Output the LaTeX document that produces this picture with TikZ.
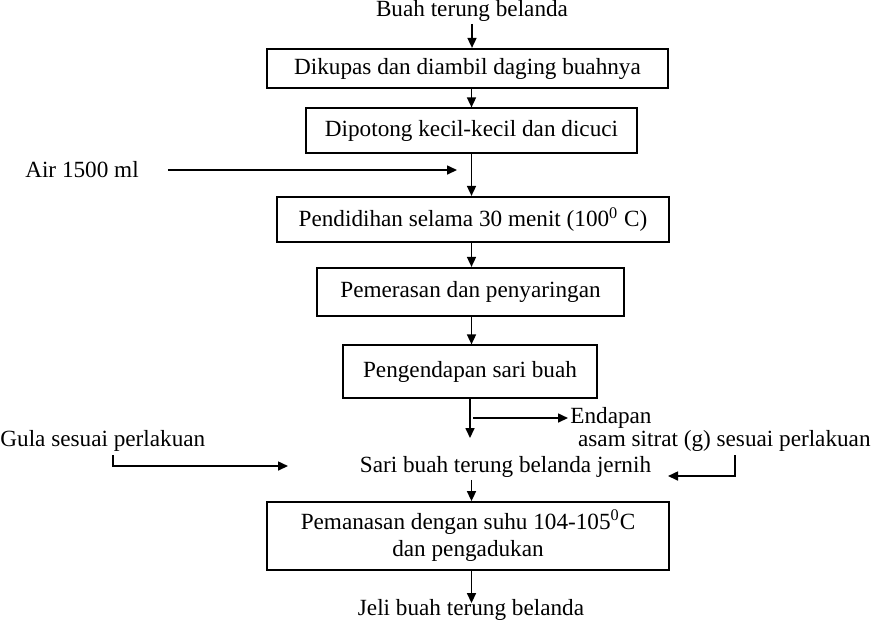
\documentclass[tikz,border=0pt]{standalone}
\usepackage{fontspec}
\setmainfont{Liberation Serif}
\usetikzlibrary{arrows.meta}
\tikzset{
  kotak/.style={draw, line width=0.6pt, inner sep=2pt, align=center},
  panah/.style={-{Triangle[length=5pt,width=4.5pt]}, line width=0.8pt}
}
\begin{document}
\begin{tikzpicture}[x=0.5pt,y=-0.5pt,font=\fontsize{11.6}{13.6}\selectfont]
        \useasboundingbox (0,0) rectangle (871,623);
        \node[inner sep=1pt] (buah) at (472,11) {Buah terung belanda};
        \node[kotak,line width=1.1pt,minimum width=200.5pt,minimum height=19.5pt] (kupas) at (467.5,68.5) {Dikupas dan diambil daging buahnya};
        \node[kotak,minimum width=165.5pt,minimum height=22.5pt] (potong) at (471.5,130.5) {Dipotong kecil-kecil dan dicuci};
        \node (air) at (82,170) {Air 1500 ml};
        \coordinate (airujung) at (457,170);
        \node[kotak,line width=1.1pt,minimum width=196pt,minimum height=22.5pt] (didih) at (473,219.5) {Pendidihan selama 30 menit (100\textsuperscript{0} C)};
        \node[kotak,line width=1.1pt,minimum width=153.5pt,minimum height=24pt] (peras) at (470.5,292) {Pemerasan dan penyaringan};
        \node[kotak,minimum width=127pt,minimum height=26.5pt] (endap) at (470,371.5) {Pengendapan sari buah};
        \coordinate (endapujung) at (470,438);
        \coordinate (cabang) at (473,418);
        \node[anchor=west,inner sep=1pt] (endapan) at (568,418) {Endapan};
        \node[anchor=east,inner sep=0pt] (asam) at (871,441) {asam sitrat (g) sesuai perlakuan};
        \node[anchor=west,inner sep=0pt] (gula) at (0,441) {Gula sesuai perlakuan};
        \node[inner sep=1pt] (sari) at (505.5,467) {Sari buah terung belanda jernih};
        \coordinate (gulapangkal) at (113,455);
        \coordinate (gulaujung) at (288,466);
        \coordinate (asampangkal) at (735,455);
        \coordinate (asamujung) at (668,476);
        \node[kotak,line width=0.9pt,minimum width=201pt,minimum height=34pt] (panas) at (468,536) {Pemanasan dengan suhu 104-105\textsuperscript{0}C\\dan pengadukan};
        \node[inner sep=0pt] (jeli) at (471,610) {Jeli buah terung belanda};
        % alur utama
        \draw[panah] (buah.south) -- (buah.south |- kupas.north);
        \draw[panah] (kupas.south -| potong.north) -- (potong.north);
        \draw[panah] (potong.south) -- (potong.south |- didih.north);
        \draw[panah] ([xshift=11pt]air.east) -- (airujung);
        \draw[panah] (didih.south -| potong.south) -- (peras.north -| potong.south);
        \draw[panah] (peras.south -| potong.south) -- (endap.north -| potong.south);
        \draw[panah] (endap.south) -- (endapujung);
        \draw[panah] (cabang) -- (endapan.west);
        \draw[panah] (gulapangkal) |- (gulaujung);
        \draw[panah] (asampangkal) |- (asamujung);
        \draw[panah] (sari.south -| potong.south) -- (panas.north -| potong.south);
        \draw[panah] (panas.south -| potong.south) -- ([yshift=-2pt]potong.south |- jeli.north);
    \end{tikzpicture}
\end{document}
